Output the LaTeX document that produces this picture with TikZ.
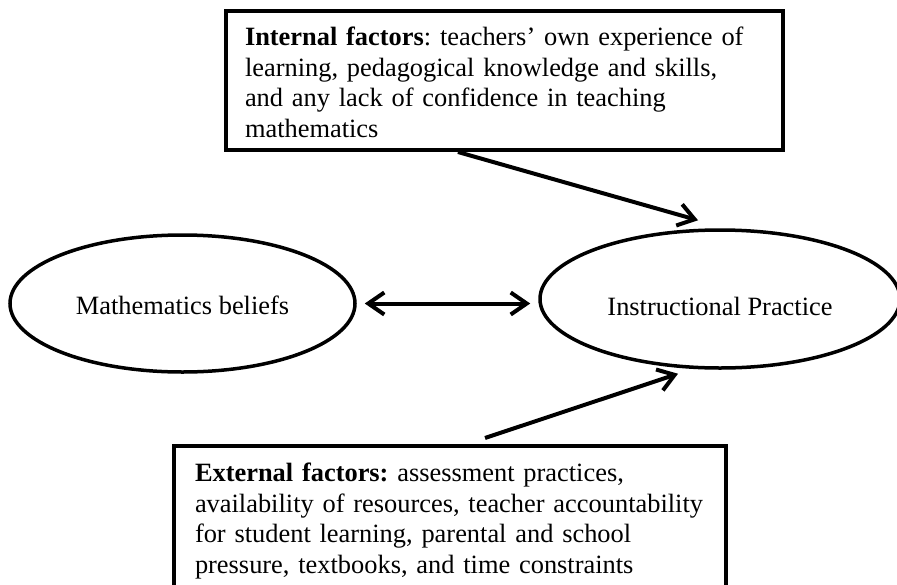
\documentclass[tikz,border=0pt]{standalone}
\usepackage{fontspec}
\setmainfont{Liberation Serif}
\usetikzlibrary{arrows.meta,shapes.geometric,calc}
\begin{document}
\frenchspacing
\begin{tikzpicture}[x=1pt,y=-1pt,
  every node/.style={font=\fontsize{26.4pt}{30.5pt}\selectfont},
  factorbox/.style={draw, line width=4pt, rectangle, align=left, anchor=north west, inner ysep=0pt},
  beliefell/.style={draw, ellipse, line width=3.5pt, inner sep=0pt},
  barbtip/.tip={Straight Barb[length=16pt,width=22pt]},
  link/.style={line width=4pt, -barbtip},
  twoway/.style={line width=4pt, barbtip-barbtip}
]
\useasboundingbox (0,0) rectangle (897,584);
\fill[white] (0,0) rectangle (897,584);

\node[factorbox, minimum height=139pt, text width=519pt, inner xsep=19pt] (internal) at (224,9)
  {\rule{0pt}{22.6pt}\textbf{Internal factors}: teachers’ own experience of\\
   learning, pedagogical knowledge and skills,\\
   and any lack of confidence in teaching\\
   mathematics};

\node[factorbox, minimum height=150pt, text width=510pt, inner xsep=21pt] (external) at (172,444)
  {\textbf{External factors:} assessment practices,\\
   availability of resources, teacher accountability\\
   for student learning, parental and school\\
   pressure, textbooks, and time constraints};

\node[beliefell, minimum width=345pt, minimum height=137pt] (beliefs) at (182.5,303.5)
  {\raisebox{-10.5pt}[0pt][0pt]{Mathematics beliefs}};
\node[beliefell, minimum width=360pt, minimum height=138pt] (practice) at (720,299)
  {\raisebox{-16pt}[0pt][0pt]{Instructional Practice}};

\draw[twoway, shorten <=8pt, shorten >=8pt] (beliefs.east) -- (beliefs.east -| practice.west);
\draw[link] ($(internal.south west)!0.417!(internal.south east)$) -- ([shift={(-22,-8)}]practice.north);
\draw[link] ([shift={(313,-6)}]external.north west) -- ([shift={(-42,4)}]practice.south);
\end{tikzpicture}
\end{document}
